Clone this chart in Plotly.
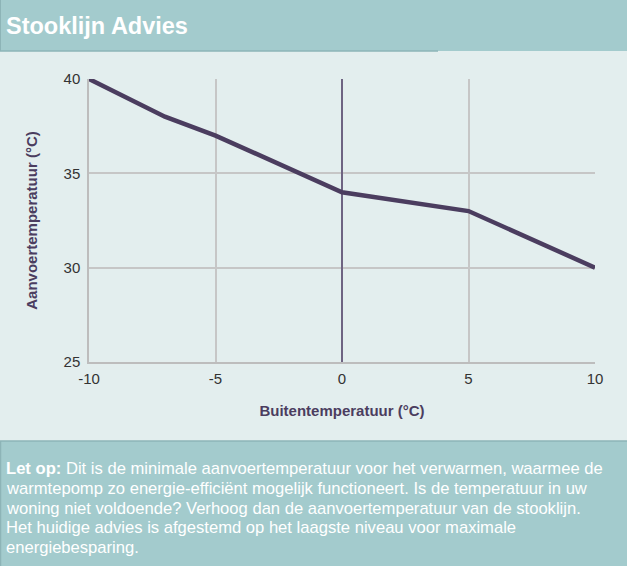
import plotly.graph_objects as go

buiten_temp = [-10, -7, -5, 0, 5, 10]
aanvoer_temp = [40, 38, 37, 34, 33, 30]
x_ticks = [-10, -5, 0, 5, 10]
y_ticks = [25, 30, 35, 40]
note_lines = [
    "<b>Let op:</b> Dit is de minimale aanvoertemperatuur voor het verwarmen, waarmee de",
    "warmtepomp zo energie-efficiënt mogelijk functioneert. Is de temperatuur in uw",
    "woning niet voldoende? Verhoog dan de aanvoertemperatuur van de stooklijn.",
    "Het huidige advies is afgestemd op het laagste niveau voor maximale",
    "energiebesparing.",
]

W, H = 627, 566
L, R, T, B = 89, 32, 79, 204
pw, ph = W - L - R, H - T - B

def px(x):
    return (x - L) / pw

def py(y):
    return (H - B - y) / ph

teal = "#a3cbcd"
bg = "#e3eeee"
line_col = "#4b3d5f"
FONT = "Liberation Sans, Arial"

fig = go.Figure()
fig.add_trace(go.Scatter(
    x=buiten_temp, y=aanvoer_temp, mode="lines",
    line=dict(color=line_col, width=4.5), hoverinfo="skip", showlegend=False,
))

shapes = [
    dict(type="rect", xref="paper", yref="paper", x0=px(0), x1=px(W), y0=py(51), y1=py(0),
         fillcolor=teal, line=dict(width=0), layer="below"),
    dict(type="line", xref="paper", yref="paper", x0=px(0), x1=px(438), y0=py(51), y1=py(51),
         line=dict(color="#8db4b7", width=1.5)),
    dict(type="line", xref="paper", yref="paper", x0=px(0.5), x1=px(0.5), y0=py(51), y1=py(0),
         line=dict(color="#8db4b7", width=1)),
    dict(type="rect", xref="paper", yref="paper", x0=px(0), x1=px(W), y0=py(H), y1=py(441),
         fillcolor=teal, line=dict(width=0), layer="below"),
    dict(type="line", xref="paper", yref="paper", x0=px(0), x1=px(W), y0=py(441), y1=py(441),
         line=dict(color="#8db4b7", width=1.5)),
    dict(type="line", xref="paper", yref="paper", x0=px(0.5), x1=px(0.5), y0=py(H), y1=py(441),
         line=dict(color="#8db4b7", width=1.5)),
]

annotations = [
    dict(text="<b>Stooklijn Advies</b>", xref="paper", yref="paper", x=px(4), y=py(26),
         xanchor="left", yanchor="middle", showarrow=False,
         font=dict(family=FONT, size=23.5, color="white")),
]
line_y = [468, 488, 508, 527.5, 547]
for txt, yy in zip(note_lines, line_y):
    annotations.append(dict(text=txt, xref="paper", yref="paper", x=px(4), y=py(yy),
                            xanchor="left", yanchor="middle", align="left", showarrow=False,
                            font=dict(family=FONT, size=16.6, color="white")))

fig.update_layout(
    width=W, height=H,
    margin=dict(l=L, r=R, t=T, b=B, autoexpand=False),
    paper_bgcolor=bg, plot_bgcolor=bg,
    font=dict(family=FONT, size=15, color="#333333"),
    shapes=shapes, annotations=annotations,
    hovermode=False,
    xaxis=dict(
        range=[-10, 10], tickvals=x_ticks, ticktext=[str(v) for v in x_ticks],
        showgrid=True, gridcolor="#c6c6c6", gridwidth=1.5,
        zeroline=True, zerolinecolor="#6e6482", zerolinewidth=2,
        showline=True, linecolor="#bdbdbd", linewidth=1.5, mirror=False,
        ticks="", ticklabelstandoff=2,
        title=dict(text="<b>Buitentemperatuur (°C)</b>", standoff=20,
                   font=dict(size=15, color="#4b3d5f")),
    ),
    yaxis=dict(
        range=[25, 40], tickvals=y_ticks, ticktext=[str(v) for v in y_ticks],
        showgrid=True, gridcolor="#c6c6c6", gridwidth=1.5,
        zeroline=False,
        showline=True, linecolor="#bdbdbd", linewidth=1.5,
        ticks="", ticklabelstandoff=4,
        title=dict(text="<b>Aanvoertemperatuur (°C)</b>", standoff=22,
                   font=dict(size=15, color="#4b3d5f")),
    ),
)

fig.write_html("out.html", config={"displayModeBar": False},
               post_script="document.body.style.margin='0';")
